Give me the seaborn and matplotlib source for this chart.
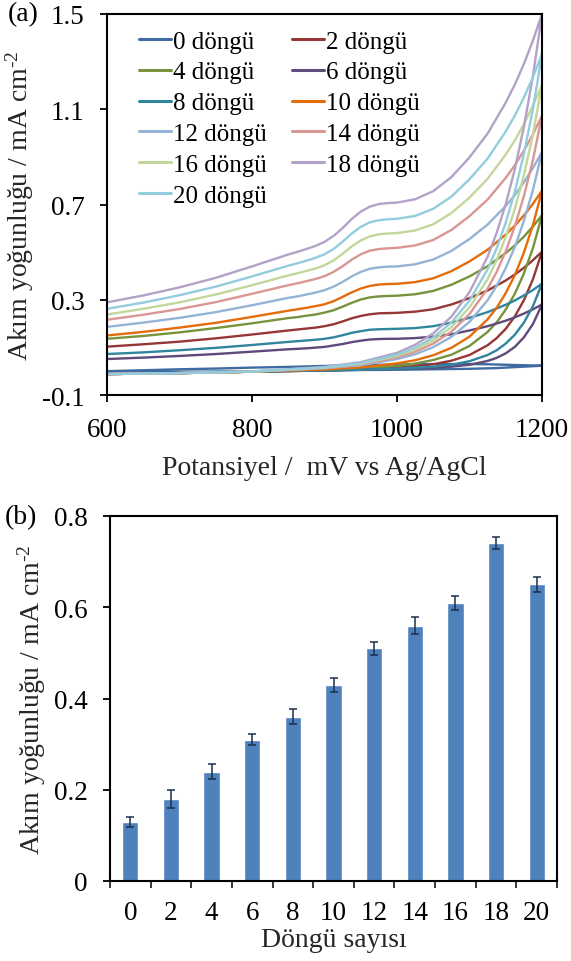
import numpy as np
import pandas as pd
import matplotlib
matplotlib.use('Agg')
import matplotlib.pyplot as plt
import seaborn as sns
from matplotlib.lines import Line2D

# ---------------- data: panel (a) ----------------
cycles = [0, 2, 4, 6, 8, 10, 12, 14, 16, 18, 20]
colors = ["#3E6BA1", "#953735", "#77933C", "#604A7B", "#31859C", "#E46C0A",
          "#95B3D7", "#D99694", "#C3D69B", "#B3A2C7", "#93CDDD"]

# forward (anodic) scan potentials, mV
E_fwd = [600, 700, 800, 900, 950, 1000, 1025, 1050, 1075, 1100, 1125, 1137.5,
         1150, 1162.5, 1175, 1187.5, 1200]
# reverse-scan branch potentials (listed ascending), mV
E_rev = [600, 650, 700, 750, 800, 850, 862.5, 875, 887.5, 900, 912.5, 925, 937.5,
         950, 962.5, 975, 987.5, 1000, 1025, 1050, 1075, 1100, 1125, 1150,
         1162.5, 1175, 1187.5, 1200]

fwd_0 = [-0.005, -0.003, 0.000, 0.003, 0.005, 0.006, 0.007, 0.008, 0.009, 0.010, 0.012, 0.013, 0.015, 0.017, 0.019, 0.021, 0.023]
fwd_2 = [-0.012, -0.008, -0.002, 0.003, 0.008, 0.015, 0.021, 0.029, 0.044, 0.068, 0.109, 0.139, 0.178, 0.230, 0.298, 0.386, 0.502]
fwd_4 = [-0.012, -0.008, -0.002, 0.005, 0.011, 0.022, 0.032, 0.047, 0.069, 0.106, 0.165, 0.205, 0.259, 0.325, 0.410, 0.517, 0.655]
fwd_6 = [-0.012, -0.008, -0.002, 0.003, 0.006, 0.010, 0.012, 0.014, 0.019, 0.027, 0.043, 0.056, 0.075, 0.102, 0.142, 0.198, 0.280]
fwd_8 = [-0.012, -0.008, -0.002, 0.003, 0.006, 0.011, 0.015, 0.019, 0.027, 0.042, 0.068, 0.088, 0.116, 0.153, 0.204, 0.273, 0.368]
fwd_10 = [-0.012, -0.008, -0.002, 0.007, 0.016, 0.033, 0.046, 0.067, 0.098, 0.145, 0.218, 0.266, 0.328, 0.403, 0.498, 0.613, 0.758]
fwd_12 = [-0.012, -0.008, -0.002, 0.012, 0.025, 0.051, 0.071, 0.101, 0.144, 0.207, 0.298, 0.359, 0.433, 0.522, 0.631, 0.761, 0.920]
fwd_14 = [-0.012, -0.008, -0.002, 0.013, 0.029, 0.058, 0.082, 0.116, 0.166, 0.240, 0.347, 0.417, 0.504, 0.608, 0.735, 0.887, 1.073]
fwd_16 = [-0.012, -0.008, -0.002, 0.015, 0.031, 0.064, 0.091, 0.129, 0.185, 0.268, 0.387, 0.467, 0.564, 0.681, 0.823, 0.994, 1.202]
fwd_18 = [-0.012, -0.008, -0.001, 0.018, 0.038, 0.077, 0.111, 0.159, 0.229, 0.332, 0.481, 0.581, 0.702, 0.848, 1.026, 1.239, 1.500]
fwd_20 = [-0.012, -0.008, -0.001, 0.016, 0.034, 0.069, 0.099, 0.142, 0.204, 0.296, 0.428, 0.516, 0.624, 0.754, 0.912, 1.101, 1.332]

rev_0 = [0.000, 0.004, 0.008, 0.011, 0.015, 0.018, 0.019, 0.020, 0.021, 0.022, 0.023, 0.024, 0.025, 0.026,
         0.026, 0.027, 0.027, 0.028, 0.029, 0.030, 0.030, 0.030, 0.029, 0.027, 0.026, 0.025, 0.024, 0.023]
rev_2 = [0.103, 0.113, 0.124, 0.138, 0.154, 0.171, 0.175, 0.179, 0.183, 0.189, 0.197, 0.209, 0.222, 0.232,
         0.239, 0.243, 0.244, 0.245, 0.250, 0.260, 0.280, 0.307, 0.339, 0.381, 0.406, 0.434, 0.466, 0.502]
rev_4 = [0.136, 0.148, 0.163, 0.181, 0.201, 0.223, 0.227, 0.233, 0.238, 0.246, 0.256, 0.271, 0.287, 0.301,
         0.310, 0.314, 0.316, 0.317, 0.323, 0.337, 0.363, 0.398, 0.441, 0.496, 0.528, 0.565, 0.608, 0.655]
rev_6 = [0.051, 0.057, 0.064, 0.072, 0.082, 0.092, 0.094, 0.096, 0.099, 0.102, 0.108, 0.114, 0.122, 0.128,
         0.133, 0.135, 0.136, 0.136, 0.139, 0.145, 0.155, 0.171, 0.189, 0.212, 0.226, 0.242, 0.260, 0.280]
rev_8 = [0.072, 0.079, 0.088, 0.098, 0.110, 0.123, 0.126, 0.129, 0.132, 0.136, 0.142, 0.151, 0.161, 0.168,
         0.174, 0.176, 0.177, 0.178, 0.181, 0.189, 0.204, 0.224, 0.248, 0.279, 0.297, 0.318, 0.341, 0.368]
rev_10 = [0.150, 0.165, 0.183, 0.203, 0.228, 0.254, 0.260, 0.266, 0.273, 0.281, 0.294, 0.312, 0.331, 0.347,
          0.358, 0.364, 0.366, 0.367, 0.374, 0.390, 0.420, 0.461, 0.510, 0.574, 0.611, 0.654, 0.703, 0.758]
rev_12 = [0.186, 0.204, 0.224, 0.248, 0.277, 0.308, 0.314, 0.322, 0.330, 0.340, 0.355, 0.375, 0.398, 0.417,
          0.430, 0.436, 0.439, 0.440, 0.449, 0.469, 0.505, 0.555, 0.616, 0.694, 0.740, 0.793, 0.853, 0.920]
rev_14 = [0.216, 0.237, 0.261, 0.290, 0.325, 0.361, 0.369, 0.378, 0.387, 0.399, 0.417, 0.441, 0.468, 0.491,
          0.506, 0.513, 0.516, 0.518, 0.528, 0.551, 0.593, 0.651, 0.721, 0.812, 0.865, 0.926, 0.995, 1.073]
rev_16 = [0.238, 0.262, 0.289, 0.322, 0.361, 0.402, 0.411, 0.421, 0.431, 0.445, 0.465, 0.493, 0.524, 0.549,
          0.566, 0.575, 0.578, 0.580, 0.591, 0.617, 0.664, 0.729, 0.808, 0.910, 0.969, 1.037, 1.115, 1.202]
rev_18 = [0.289, 0.318, 0.352, 0.392, 0.440, 0.490, 0.501, 0.513, 0.526, 0.543, 0.568, 0.601, 0.639, 0.670,
          0.691, 0.702, 0.706, 0.708, 0.722, 0.756, 0.815, 0.898, 0.998, 1.128, 1.203, 1.290, 1.389, 1.500]
rev_20 = [0.262, 0.288, 0.319, 0.355, 0.398, 0.443, 0.453, 0.464, 0.476, 0.491, 0.513, 0.544, 0.578, 0.606,
          0.625, 0.634, 0.638, 0.640, 0.652, 0.682, 0.733, 0.806, 0.893, 1.007, 1.073, 1.149, 1.235, 1.332]

fwd_all = [fwd_0, fwd_2, fwd_4, fwd_6, fwd_8, fwd_10, fwd_12, fwd_14, fwd_16, fwd_18, fwd_20]
rev_all = [rev_0, rev_2, rev_4, rev_6, rev_8, rev_10, rev_12, rev_14, rev_16, rev_18, rev_20]

# ---------------- data: panel (b) ----------------
bar_cats = ["0", "2", "4", "6", "8", "10", "12", "14", "16", "18", "20"]
bar_vals = [0.13, 0.18, 0.24, 0.31, 0.36, 0.43, 0.51, 0.56, 0.61, 0.74, 0.65]
bar_errs = [0.011, 0.020, 0.016, 0.013, 0.016, 0.016, 0.014, 0.019, 0.015, 0.013, 0.016]

# ---------------- style ----------------
sns.set_theme(style='white')
plt.rcParams['font.family'] = ['Liberation Serif', 'DejaVu Serif']
plt.rcParams['mathtext.fontset'] = 'custom'
plt.rcParams['mathtext.rm'] = 'Liberation Serif'
plt.rcParams['mathtext.it'] = 'Liberation Serif:italic'
plt.rcParams['axes.unicode_minus'] = False
plt.rcParams['text.color'] = 'black'

FS_TICK = 19.5
FS_LAB = 20
FS_LEG = 18

rows = []
for cyc, f, r in zip(cycles, fwd_all, rev_all):
    for e, j in zip(E_fwd, f):
        rows.append((f"{cyc} döngü", e, j))
    for e, j in zip(E_rev[::-1], r[::-1]):
        rows.append((f"{cyc} döngü", e, j))
df = pd.DataFrame(rows, columns=["cycle", "E", "j"])
labels = [f"{c} döngü" for c in cycles]
pal = dict(zip(labels, colors))

fig = plt.figure(figsize=(5.71, 9.62), dpi=100)
ax1 = fig.add_axes([107 / 571, 1 - 396 / 962, 435 / 571, 381 / 962])
ax2 = fig.add_axes([110 / 571, 1 - 882 / 962, 447 / 571, 365 / 962])

sns.lineplot(data=df, x="E", y="j", hue="cycle", hue_order=labels, palette=pal,
             sort=False, estimator=None, legend=False, lw=1.7, ax=ax1)

ylab = r"Akım yoğunluğu / mA cm$^{\text{-2}}$"

ax1.set_xlim(600, 1200)
ax1.set_ylim(-0.1, 1.5)
ax1.set_xticks([600, 800, 1000, 1200])
ax1.set_xticklabels(["600", "800", "1000", "1200"])
ax1.set_yticks([-0.1, 0.3, 0.7, 1.1, 1.5])
ax1.set_yticklabels(["-0.1", "0.3", "0.7", "1.1", "1.5"])
ax1.set_xlabel("Potansiyel /  mV vs Ag/AgCl", fontsize=FS_LAB, labelpad=9)
ax1.set_ylabel(ylab, fontsize=FS_LAB, labelpad=4)

order = [0, 2, 4, 6, 8, 10, 1, 3, 5, 7, 9]
handles = [Line2D([0], [0], color=colors[i], lw=2.2) for i in order]
ax1.legend(handles, [labels[i] for i in order], ncol=2, loc="upper left",
           bbox_to_anchor=(0.074, 0.958), frameon=False, fontsize=FS_LEG,
           handlelength=1.28, handletextpad=0.08, labelspacing=0.335,
           columnspacing=1.0, borderaxespad=0, borderpad=0)

# ---------------- panel (b) ----------------
sns.barplot(x=bar_cats, y=bar_vals, color="#4F81BD", saturation=1, width=0.4,
            ax=ax2, errorbar=None)
ax2.errorbar(x=np.arange(len(bar_cats)), y=bar_vals, yerr=bar_errs, fmt="none",
             ecolor="#1B2F4D", elinewidth=1.1, capsize=3, capthick=1.1)
ax2.set_xlim(-0.5, len(bar_cats) - 0.5)
ax2.set_ylim(0, 0.8)
ax2.set_yticks([0, 0.2, 0.4, 0.6, 0.8])
ax2.set_yticklabels(["0", "0.2", "0.4", "0.6", "0.8"])
ax2.set_xticks(np.arange(-0.5, len(bar_cats), 1.0), minor=True)
ax2.tick_params(axis="x", which="major", length=0, pad=14)
ax2.tick_params(axis="x", which="minor", bottom=True, direction="out", length=5, width=1.3)
ax2.set_xlabel("Döngü sayısı", fontsize=FS_LAB, labelpad=1)
ax2.set_ylabel(ylab, fontsize=FS_LAB, labelpad=4)

for ax in (ax1, ax2):
    for s in ax.spines.values():
        s.set_visible(True)
        s.set_color("black")
        s.set_linewidth(1.5)
    ax.tick_params(which="major", labelsize=FS_TICK, colors="black")
    ax.tick_params(axis="y", left=True, direction="out", length=5, width=1.3, pad=11)
ax1.tick_params(axis="x", bottom=True, direction="out", length=5, width=1.3, pad=11)

fig.text(8 / 571, 1 - 15 / 962, "(a)", fontsize=FS_LAB, va="center", ha="left")
fig.text(5 / 571, 1 - 518 / 962, "(b)", fontsize=FS_LAB, va="center", ha="left")

fig.savefig("out.png", dpi=100)
